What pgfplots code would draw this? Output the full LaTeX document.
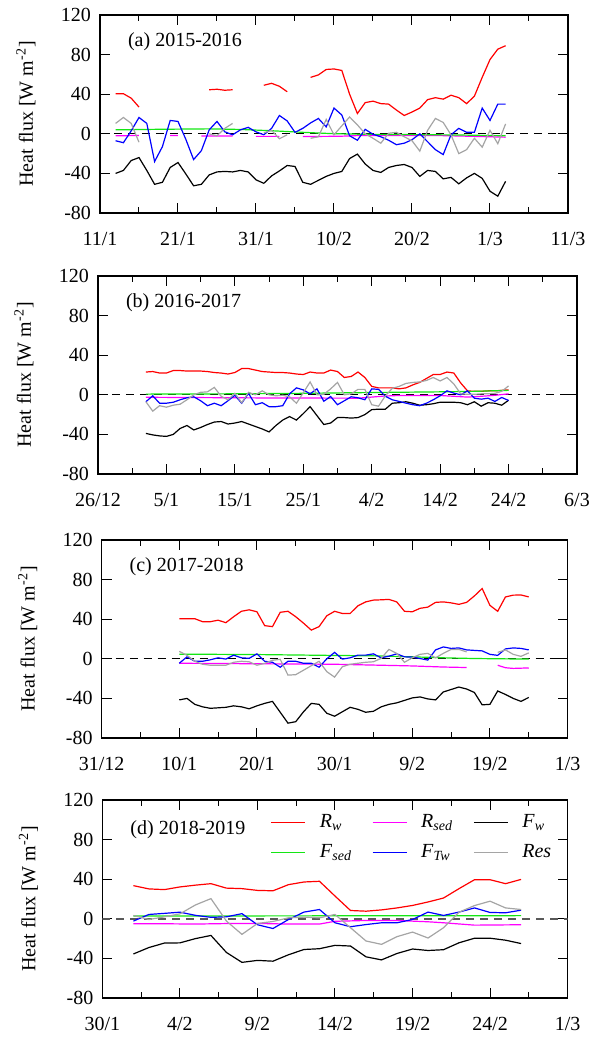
\documentclass[border=0pt]{standalone}
\usepackage{fontspec}
\setmainfont{Liberation Serif}
\usepackage{pgfplots}
\usepackage{pgfplotstable}
\pgfplotsset{compat=1.18}

\definecolor{cRw}{RGB}{255,0,0}
\definecolor{cRs}{RGB}{255,0,255}
\definecolor{cFw}{RGB}{0,0,0}
\definecolor{cFs}{RGB}{20,230,20}
\definecolor{cFT}{RGB}{0,0,255}
\definecolor{cRes}{RGB}{165,165,165}

% day  Rw  Fw  FTw  Res   (day 0 = first tick)
\pgfplotstableread{
d  Rw   Fw    FT    Res
2  40.5 -40   -7    10.5
3  40.5 -37   -9    16.5
4  36   -27   3     10.5
5  27   -24   16.5  -8.5
6  nan  -37   10.5  nan
7  nan  -51   -28   nan
8  nan  -49   -13   nan
9  nan  -34   13.5  nan
10 nan  -29   12.5  nan
11 nan  -40.5 -5.5  nan
12 nan  -52.5 -26   nan
13 nan  -51   -17   nan
14 44.5 -41.5 4     0
15 45   -38.5 12.5  -2
16 44   -38   2     5.5
17 44.5 -38.5 -1    10.5
18 nan  -37   4     nan
19 nan  -38.5 6.5   nan
20 nan  -46.5 2     nan
21 49   -50   -1    1
22 51   -42.5 5.5   3.5
23 48   -37.5 18.5  -5
24 42.5 -32   13    -1
25 nan  -33   1.5   nan
26 nan  -49   5.5   nan
27 57   -51   11    -4.5
28 59.5 -47   15.5  -3
29 65   -43   7     14.5
30 65.5 -40   26    -1
31 64   -38   19    8
32 40   -25   -2    17
33 20.5 -20.5 -6.5  9
34 31.5 -30.5 4.5   0
35 33   -37   -0.5  -4.5
36 30.5 -39   -3    -9.5
37 30   -34   -6.5  0.5
38 24   -32   -11   1.5
39 18.5 -31   -9.5  -3
40 22   -34   -6    -7
41 26   -43   0     -17.5
42 34.5 -37   -8    3.5
43 36.5 -38   -16   15.5
44 35   -45.5 -21   11.5
45 39   -44   -1    -1
46 36.5 -50.5 5.5   -20
47 30.5 -44.5 1.5   -16
48 38   -40   1.5   -4.5
49 57   -45   26    -13.5
50 75   -58   13.5  3.5
51 85.5 -63   30    -10
52 89   -48   30    10
}\dataA

\pgfplotstableread{
d  Rw   Fw    FT    Res
7  23   -39   -7    -7
8  23.5 -40.5 -1    -16.5
9  22   -41.5 -8.5  -11
10 22   -42   -8.5  -12.5
11 24.5 -40   -7.5  -10.5
12 24.5 -34   -5    -9.5
13 24   -31   -3    -5
14 24   -35.5 -2    0
15 24   -33   -6    2.5
16 23.5 -30   -11   3
17 22.5 -27.5 -8.5  7.5
18 22   -27   -11   -1.5
19 21   -29.5 -6    -5
20 22.5 -28.5 -0.5  1.5
21 26.5 -27   -8.5  -8
22 26.5 -29.5 1.5   2.5
23 25   -32   -10   0
24 23.5 -34.5 -8    4
25 23   -37.5 -12   0
26 22.5 -31   -12   -1
27 22.5 -25.5 -11   -0.5
28 22   -22   1     -2
29 21   -25.5 7     -8.5
30 20.5 -19   5     2
31 23   -12   1     13
32 22   -21   6     0
33 22   -30   -6.5  0.5
34 25   -28.5 -1.7  6
35 23.5 -23   -10   12.5
36 17.5 -23   -6    0
37 18.5 -23.5 -2    1
38 23   -23   -3    5.5
39 17.5 -20   -5    5.5
40 8.5  -15   6     -10
41 7    -14.5 5.5   -11.5
42 7    -14.5 -1.5  -1
43 7    -8.5  -5    6.5
44 6    -8    -6.7  8.5
45 7    -7    -8.4  11.5
46 10   -8.5  -10   12.5
47 12.5 -10.5 -11   13
48 16.5 -10   -8.5  14.5
49 20.5 -9    -5    17.5
50 20.5 -7.5  -1    14
51 23   -7.5  4     17.5
52 22   -7.5  1.7   11
53 12   -8    0     1
54 4    -10   4     0.5
55 3.5  -7    -3.4  0.5
56 3.5  -11.5 -4.4  1
57 4    -8    -3.4  1
58 4    -8.5  -6.7  1.5
59 4.5  -10.5 -2.7  3.5
60 5    -5.5  -5.7  9
}\dataB

\pgfplotstableread{
d  Rw   Fw    FT    Res
10 40.5 -41.5 -4.5  7.5
11 40.5 -40   2     3.5
12 40.5 -46   -2.5  -2.5
13 37.5 -48.5 -2.5  -5.5
14 37.5 -50   -1    -6.5
15 39   -49.5 1     -6.5
16 36.5 -49   -0.3  -6.5
17 42.5 -47.5 3.7   -3.5
18 48   -48.5 1     -2.5
19 49.5 -50.5 0.5   -3
20 47.5 -47.5 5     -6.5
21 33.5 -45   -2.5  -4.5
22 32.5 -43   -3.5  -1.5
23 47   -54   -8.5  -0.5
24 48   -65   -2.5  -16.5
25 42.5 -63.5 -2.5  -16
26 36   -53.5 -4.5  -11.5
27 29   -45   -4.5  -7
28 32.5 -46   -8.5  -2.5
29 43.5 -55   0     -13
30 48   -58   6.5   -18.5
31 45.8 -53.5 -0.3  -8
32 45.8 -49   1     -5.5
33 53.5 -51   3.7   -4.5
34 57.5 -54   3.7   -3.5
35 59.3 -53   5     -3
36 59.6 -48.5 1     0.5
37 60   -46   2.7   9.5
38 57.5 -44.5 5     5.5
39 48   -42   2     -3.5
40 47.5 -39.5 1.7   1
41 51   -38.5 0.3   4.5
42 52.2 -40.5 -1.3  5.5
43 57   -41.5 9     1
44 57.5 -33.5 12    5.5
45 56.5 -31   10.5  9.5
46 55   -28.5 11    9.5
47 57   -30.5 9     7
48 63.5 -34   8.5   nan
49 71   -46.5 8     nan
50 54   -46   4.5   nan
51 48   -32.5 3.5   6.5
52 62.5 -36   10    9
53 64.3 -40   11    4.5
54 64.5 -43   10.5  2.5
55 62.5 -39   9     6
}\dataC

\pgfplotstableread{
d  Rw   Fw    FT    Res
2  33.5 -35.5 -2.3  3.4
3  30.2 -29   4.4   -0.7
4  29.5 -24.5 5.5   2
5  32.2 -24.3 6.7   5
6  34   -20   3.5   14
7  35.5 -16.8 1.5   20.4
8  31   -34   2     -2.3
9  30.5 -44   5.2   -15.7
10 28.7 -42   -6    -4.7
11 28.3 -42.8 -9.8  -2.7
12 34.5 -36.3 -0.7  1
13 37.2 -31   6.8   1.7
14 37.9 -30.2 9.4   1
15 23   -26.8 -4    4.4
16 8.4  -27.5 -8    -9
17 7.7  -38.4 -5.8  -22.4
18 9    -41.5 -4    -25.8
19 11   -35   -4    -18
20 13.5 -30.5 -0.7  -13.4
21 17   -32   6.8   -19.4
22 21   -31.2 3.4   -9
23 30.5 -24.2 6.8   6.7
24 39.5 -19.6 11    13.4
25 39.5 -19.6 6.4   17.8
26 35.5 -21.6 6.1   11
27 39.8 -25   8.7   9.4
}\dataD

\pgfplotsset{
  fluxax/.style={
    scale only axis, height=99pt,
    ymin=-80, ymax=120,
    ytick={-80,-40,0,40,80,120},
    yticklabels={-80,-40,0,40,80,120},
    minor x tick num=1,
    tick align=inside,
    major tick length=5pt, minor tick length=3pt,
    tick style={black, line width=0.5pt},
    axis line style={line width=0.6pt},
    font=\fontsize{10}{12}\selectfont,
    xticklabel style={yshift=-6pt},
    yticklabel style={xshift=-1pt},
    every axis y label/.style={at={(axis description cs:0,0.5)}, xshift=-37pt, rotate=90, anchor=center},
    ylabel={Heat flux [W m\textsuperscript{-2}]},
    unbounded coords=jump,
    every axis plot/.append style={line width=0.6pt},
  },
  zeroline/.style={black, dash pattern=on 4pt off 3pt, line width=0.6pt, forget plot},
}

\begin{document}
\begin{tikzpicture}
\useasboundingbox (0,0) rectangle (296.5pt,-520.5pt);

% (a)
\begin{axis}[fluxax, at={(50pt,-7.5pt)}, anchor=north west, width=234pt,
  xmin=0, xmax=60, xtick={0,10,...,60},
  xticklabels={11/1,21/1,31/1,10/2,20/2,1/3,11/3}]
\addplot[zeroline] coordinates {(0,0) (60,0)};
\addplot[cRw] table[x=d, y=Rw] {\dataA};
\addplot[cRs] coordinates {(2,-2) (3,-2) (4,-1.8) (5,-1.8) (6,nan) (9,-1.7) (10,-1.7) (11,nan)
  (13,-2.3) (17,-2.3) (18,nan) (20,-2.6) (23,-2.6) (24,nan) (26,-2.7) (29,-2.6) (31,-2.4)
  (33,-1.8) (36,-1.7) (43,-1.7) (46,-2.2) (49,-2.8) (52,-3.4)};
\addplot[cFw] table[x=d, y=Fw] {\dataA};
\addplot[cFs] coordinates {(2,4) (8,4.6) (14,5) (18,4.4) (22,3.1) (26,1.5) (30,0.1) (34,-0.5)
  (40,-0.8) (46,-1.2) (52,-2)};
\addplot[cFT] table[x=d, y=FT] {\dataA};
\addplot[cRes] table[x=d, y=Res] {\dataA};
\node[anchor=west, xshift=10.5pt, yshift=-13.5pt] at (rel axis cs:0,1) {(a) 2015-2016};
\end{axis}

% (b)
\begin{axis}[fluxax, at={(49pt,-138pt)}, anchor=north west, width=239.5pt,
  xmin=0, xmax=70, xtick={0,10,...,70},
  xticklabels={26/12,5/1,15/1,25/1,4/2,14/2,24/2,6/3}]
\addplot[zeroline] coordinates {(0,0) (70,0)};
\addplot[cRw] table[x=d, y=Rw] {\dataB};
\addplot[cRs] coordinates {(7,-2.5) (15,-2.8) (25,-3.2) (38,-3.4) (40,-2.3) (42,-1.2) (44,-0.7)
  (50,-0.7) (52,-1.5) (54,-2.3) (56,-1.5) (58,-0.5) (60,1)};
\addplot[cFw] table[x=d, y=Fw] {\dataB};
\addplot[cFs] coordinates {(7,0.7) (20,1) (30,1.5) (40,2.3) (50,3) (55,3.5) (60,4.5)};
\addplot[cFT] table[x=d, y=FT] {\dataB};
\addplot[cRes] table[x=d, y=Res] {\dataB};
\node[anchor=west, xshift=10.5pt, yshift=-13.5pt] at (rel axis cs:0,1) {(b) 2016-2017};
\end{axis}

% (c)
\begin{axis}[fluxax, at={(50.8pt,-270pt)}, anchor=north west, width=233pt,
  xmin=0, xmax=60, xtick={0,10,...,60},
  xticklabels={31/12,10/1,20/1,30/1,9/2,19/2,1/3}]
\addplot[zeroline] coordinates {(0,0) (60,0)};
\addplot[cRw] table[x=d, y=Rw] {\dataC};
\addplot[cRs] coordinates {(10,-4.5) (20,-5) (30,-5.5) (36,-6.5) (40,-7.2) (44,-8.3) (47,-8.8)
  (48,nan) (51,-6.5) (52,-9) (53,-9.7) (55,-9.2)};
\addplot[cFw] table[x=d, y=Fw] {\dataC};
\addplot[cFs] coordinates {(10,4.7) (20,4.3) (30,3.4) (35,3) (40,2) (44,1) (48,0.3) (55,-0.3)};
\addplot[cFT] table[x=d, y=FT] {\dataC};
\addplot[cRes] table[x=d, y=Res] {\dataC};
\node[anchor=west, xshift=10.5pt, yshift=-13.5pt] at (rel axis cs:0,1) {(c) 2017-2018};
\end{axis}

% (d)
\begin{axis}[fluxax, at={(51.2pt,-400pt)}, anchor=north west, width=232.6pt,
  xmin=0, xmax=30, xtick={0,5,...,30},
  xticklabels={30/1,4/2,9/2,14/2,19/2,24/2,1/3},
  legend columns=3,
  legend cell align=left,
  legend image code/.code={\draw[#1, line width=0.6pt] (0pt,0pt) -- (17pt,0pt);},
  legend style={draw=none, fill=none, at={(rel axis cs:0,1)}, anchor=north west,
    xshift=84pt, yshift=-5pt, inner sep=0pt, row sep=3pt,
    font=\fontsize{10}{12}\selectfont,
    /tikz/every odd column/.append style={column sep=5pt},
    /tikz/every even column/.append style={column sep=0pt}},
  legend entries={
    \makebox[24pt][l]{\textit{R}\textsubscript{\textit{w}}},
    \makebox[24pt][l]{\textit{R}\textsubscript{\textit{sed}}},
    \makebox[24pt][l]{\textit{F}\textsubscript{\textit{w}}},
    \makebox[24pt][l]{\textit{F}\textsubscript{\textit{sed}}},
    \makebox[24pt][l]{\textit{F}\textsubscript{\textit{Tw}}},
    \makebox[24pt][l]{\textit{Res}}}]
\addplot[black!65, dash pattern=on 4pt off 3pt, line width=1pt, forget plot] coordinates {(0,0) (30,0)};
\addplot[cRw] table[x=d, y=Rw] {\dataD};
\addplot[cRs] coordinates {(2,-5) (4,-5) (6,-5.3) (8,-4.8) (10,-4.7) (12,-5.3) (14,-5.3) (15,-2.5)
  (17,-1.7) (19,-1.7) (21,-3) (22,-4) (24,-6.4) (27,-6)};
\addplot[cFw] table[x=d, y=Fw] {\dataD};
\addplot[cFs] coordinates {(2,2.8) (14,3) (27,3.2)};
\addplot[cFT] table[x=d, y=FT] {\dataD};
\addplot[cRes] table[x=d, y=Res] {\dataD};
\node[anchor=west, xshift=10.5pt, yshift=-15pt] at (rel axis cs:0,1) {(d) 2018-2019};
\end{axis}
\end{tikzpicture}
\end{document}
